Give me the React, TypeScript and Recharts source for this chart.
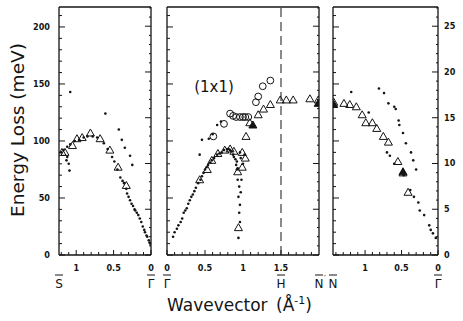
import { ScatterChart, Scatter, XAxis, YAxis, ReferenceLine } from 'recharts';

const W = 463;
const H = 321;
const PLOT_TOP = 7;
const PLOT_BOTTOM = 255;
const AX = 5; // thickness reserved for each axis

// energy axis: meV on the left, second unit on the right (1 unit ~ 8.03 meV)
const E_MAX = 217.5;
const R_MAX = 27.1;
const meVTicks = [0, 10, 20, 30, 40, 50, 60, 70, 80, 90, 100, 110, 120, 130, 140, 150, 160, 170, 180, 190, 200, 210];
const meVMajor = [0, 50, 100, 150, 200];
const rTicks = [0, 1, 2, 3, 4, 5, 6, 7, 8, 9, 10, 11, 12, 13, 14, 15, 16, 17, 18, 19, 20, 21, 22, 23, 24, 25, 26, 27];
const rMajor = [0, 5, 10, 15, 20, 25];

// wavevector ticks per panel
const p1Ticks = [0, 0.1, 0.2, 0.3, 0.4, 0.5, 0.6, 0.7, 0.8, 0.9, 1, 1.1, 1.2];
const p2Ticks = [0, 0.1, 0.2, 0.3, 0.4, 0.5, 0.6, 0.7, 0.8, 0.9, 1, 1.1, 1.2, 1.3, 1.4, 1.5, 1.6, 1.7, 1.8, 1.9];
const p3Ticks = [0, 0.1, 0.2, 0.3, 0.4, 0.5, 0.6, 0.7, 0.8, 0.9, 1, 1.1, 1.2, 1.3, 1.4];
const qMajor = [0, 0.5, 1, 1.5];

// S-bar <- Gamma-bar panel : [q, meV]
const p1Dots = [
  [1.2, 90], [1.17, 92], [1.12, 95], [1.08, 97], [1.02, 100], [0.96, 101], [0.9, 103], [0.85, 104],
  [0.78, 104], [0.72, 103], [1.12, 86], [1.1, 80], [1.09, 74], [1.13, 83],
  [1.08, 143], [0.61, 124], [0.43, 110], [0.39, 101], [0.35, 94], [0.28, 87], [0.25, 79],
  [0.63, 98], [0.58, 93], [0.52, 86], [0.49, 82], [0.45, 75], [0.41, 68], [0.38, 65], [0.36, 63],
  [0.33, 58], [0.32, 54], [0.3, 51], [0.28, 48], [0.26, 45], [0.24, 43], [0.22, 40], [0.21, 39],
  [0.19, 37], [0.17, 35], [0.15, 32], [0.13, 29], [0.11, 25], [0.09, 22], [0.08, 20], [0.06, 17],
  [0.05, 16], [0.03, 13], [0.02, 11], [0.01, 10],
];
const p1Tris = [
  [1.19, 90], [1.15, 90], [1.05, 96], [0.99, 102], [0.92, 103], [0.81, 107], [0.68, 102],
  [0.55, 92], [0.44, 77], [0.33, 61],
];

// Gamma-bar -> H-bar -> N-bar' panel
const p2Dots = [
  [0.08, 16], [0.1, 20], [0.13, 23], [0.15, 26], [0.18, 29], [0.2, 32], [0.22, 37], [0.24, 39],
  [0.26, 41], [0.28, 45], [0.3, 48], [0.32, 51], [0.34, 53], [0.36, 56], [0.38, 59], [0.41, 63],
  [0.44, 66], [0.46, 69], [0.48, 72], [0.5, 75], [0.52, 77], [0.54, 79], [0.57, 81], [0.59, 83],
  [0.62, 85], [0.66, 88], [0.69, 89], [0.72, 90], [0.75, 92], [0.79, 93], [0.81, 93], [0.83, 92],
  [0.85, 91], [0.87, 88], [0.88, 86], [0.9, 84], [0.92, 82], [0.91, 79], [0.93, 76],
  [0.92, 75], [0.93, 66], [0.95, 60], [0.94, 51], [0.96, 44], [0.95, 37], [0.96, 29], [0.94, 15],
  [0.98, 66], [0.97, 55], [0.96, 90], [0.97, 85], [1.0, 80], [1.02, 88],
  [0.43, 88], [0.46, 101], [0.55, 102], [0.6, 106], [0.66, 114], [0.71, 117],
];
const p2Tris = [
  [0.43, 66], [0.53, 75], [0.59, 83], [0.67, 89], [0.76, 92], [0.83, 93], [0.88, 91], [0.93, 73],
  [0.99, 77], [1.03, 85], [0.99, 90], [1.04, 104], [1.09, 116], [1.2, 123], [1.27, 128],
  [1.36, 132], [1.49, 136], [1.57, 136], [1.66, 136], [1.88, 137], [1.99, 136], [0.94, 24],
];
const p2Solid = [[1.13, 114], [1.99, 133]];
const p2Circles = [
  [0.61, 104], [0.75, 115], [0.83, 124], [0.87, 122], [0.91, 121], [0.96, 121], [1.0, 121],
  [1.03, 121], [1.07, 121], [1.17, 134], [1.2, 139], [1.26, 148], [1.36, 153],
];

// N-bar -> Gamma-bar panel
const p3Dots = [
  [1.19, 143], [0.95, 125], [0.7, 90], [0.66, 87], [0.47, 70], [0.33, 51], [0.27, 46], [0.25, 39],
  [0.19, 35], [0.12, 26], [0.1, 22], [0.07, 19], [0.03, 15], [0.6, 80], [0.38, 57],
  [0.81, 146], [0.74, 142], [0.68, 133], [0.6, 130], [0.58, 128], [0.54, 118], [0.53, 114],
  [0.48, 107], [0.44, 98], [0.37, 90], [0.34, 83], [0.3, 75],
];
const p3Tris = [
  [1.43, 134], [1.29, 133], [1.21, 132], [1.12, 130], [1.04, 123], [0.99, 116], [0.9, 116],
  [0.84, 111], [0.75, 104], [0.68, 99], [0.55, 82], [0.48, 72], [0.41, 55],
];
const p3Solid = [[1.43, 132], [0.48, 73]];

const toPts = (arr: number[][]) => arr.map(([q, e]) => ({ q, e }));

const INK = '#141414';
const numFont = "'Liberation Sans Narrow', 'DejaVu Sans Condensed', sans-serif";
const titleFont = "'DejaVu Sans', sans-serif";

const isMajor = (v: number, list: number[]) => list.some((m) => Math.abs(m - v) < 1e-6);

function BottomTick(props: any) {
  const { x, y, payload, labels } = props;
  const major = isMajor(payload.value, qMajor);
  return (
    <g>
      <line x1={x} y1={y} x2={x} y2={y - (major ? 5 : 3)} stroke={INK} strokeWidth={1} />
      {labels && major && (
        <text x={x} y={y + 16} textAnchor="middle" fontSize={9} fontWeight="bold" fontFamily={numFont} fill={INK}>
          {String(payload.value)}
        </text>
      )}
    </g>
  );
}

function TopTick(props: any) {
  const { x, y, payload } = props;
  const major = isMajor(payload.value, qMajor);
  return <line x1={x} y1={y} x2={x} y2={y + (major ? 5 : 3)} stroke={INK} strokeWidth={1} />;
}

function LeftTick(props: any) {
  const { x, y, payload, labels } = props;
  const major = isMajor(payload.value, meVMajor);
  return (
    <g>
      <line x1={x} y1={y} x2={x + (major ? 6 : 3)} y2={y} stroke={INK} strokeWidth={1} />
      {labels && major && (
        <text x={x - 9} y={y + 3} textAnchor="end" fontSize={9} fontWeight="bold" fontFamily={numFont} fill={INK}>
          {String(payload.value)}
        </text>
      )}
    </g>
  );
}

function RightTick(props: any) {
  const { x, y, payload, labels } = props;
  const major = isMajor(payload.value, rMajor);
  return (
    <g>
      <line x1={x} y1={y} x2={x - (major ? 6 : 2)} y2={y} stroke={INK} strokeWidth={1} />
      {labels && major && (
        <text x={x + 6} y={y + 3} textAnchor="start" fontSize={9} fontWeight="bold" fontFamily={numFont} fill={INK}>
          {String(payload.value)}
        </text>
      )}
    </g>
  );
}

const Dot = (p: any) => <circle cx={p.cx} cy={p.cy} r={1.3} fill={INK} />;
const Tri = (p: any) => (
  <path
    d={`M${p.cx},${p.cy - 4} L${p.cx + 4},${p.cy + 3} L${p.cx - 4},${p.cy + 3} Z`}
    fill="none"
    stroke={INK}
    strokeWidth={1}
  />
);
const SolidTri = (p: any) => (
  <path d={`M${p.cx},${p.cy - 4} L${p.cx + 4},${p.cy + 3} L${p.cx - 4},${p.cy + 3} Z`} fill={INK} stroke={INK} />
);
const Ring = (p: any) => <circle cx={p.cx} cy={p.cy} r={3.4} fill="none" stroke={INK} strokeWidth={1} />;

// symmetry-point label under the axis (letter with an overbar)
const symLabel = (text: string, prime?: boolean) => (props: any) => {
  const vb = props.viewBox;
  if (!vb) return null;
  const x = vb.x;
  const yb = PLOT_BOTTOM + 33;
  return (
    <g>
      <line x1={x - 4} y1={yb - 13} x2={x + 4} y2={yb - 13} stroke={INK} strokeWidth={1} />
      <text x={x} y={yb} textAnchor="middle" fontSize={12} fontFamily={titleFont} fill={INK}>
        {text}
      </text>
      {prime && (
        <text x={x + 5} y={yb - 6} fontSize={9} fontFamily={titleFont} fill={INK}>
          ′
        </text>
      )}
    </g>
  );
};

interface PanelProps {
  left: number;
  right: number;
  qMax: number;
  reversed: boolean;
  ticks: number[];
  leftLabels: boolean;
  rightLabels: boolean;
  dots: number[][];
  tris: number[][];
  solid?: number[][];
  rings?: number[][];
  syms: { q: number; text: string; prime?: boolean }[];
  dashedAt?: number;
}

function Panel(p: PanelProps) {
  return (
    <div style={{ position: 'absolute', left: 0, top: 0 }}>
      <ScatterChart
        width={W}
        height={H}
        margin={{ left: p.left - AX, right: W - p.right - AX, top: PLOT_TOP - AX, bottom: H - PLOT_BOTTOM - AX }}
      >
        <XAxis
          type="number"
          dataKey="q"
          domain={[0, p.qMax]}
          reversed={p.reversed}
          ticks={p.ticks}
          interval={0}
          height={AX}
          tickSize={0}
          tickMargin={0}
          tickLine={false}
          axisLine={{ stroke: INK, strokeWidth: 1.3 }}
          tick={<BottomTick labels />}
          allowDataOverflow
        />
        <XAxis
          xAxisId="top"
          orientation="top"
          type="number"
          domain={[0, p.qMax]}
          reversed={p.reversed}
          ticks={p.ticks}
          interval={0}
          height={AX}
          tickSize={0}
          tickMargin={0}
          tickLine={false}
          axisLine={{ stroke: INK, strokeWidth: 1.3 }}
          tick={<TopTick />}
          allowDataOverflow
        />
        <YAxis
          type="number"
          dataKey="e"
          domain={[0, E_MAX]}
          ticks={meVTicks}
          interval={0}
          width={AX}
          tickSize={0}
          tickMargin={0}
          tickLine={false}
          axisLine={{ stroke: INK, strokeWidth: 1.3 }}
          tick={<LeftTick labels={p.leftLabels} />}
          allowDataOverflow
        />
        <YAxis
          yAxisId="r"
          orientation="right"
          type="number"
          domain={[0, R_MAX]}
          ticks={rTicks}
          interval={0}
          width={AX}
          tickSize={0}
          tickMargin={0}
          tickLine={false}
          axisLine={{ stroke: INK, strokeWidth: 1.3 }}
          tick={<RightTick labels={p.rightLabels} />}
          allowDataOverflow
        />
        {p.dashedAt !== undefined && (
          <ReferenceLine x={p.dashedAt} stroke={INK} strokeWidth={1} strokeDasharray="9 5" />
        )}
        {p.syms.map((s) => (
          <ReferenceLine key={s.text + s.q} x={s.q} stroke="none" label={symLabel(s.text, s.prime)} />
        ))}
        <Scatter data={toPts(p.dots)} shape={Dot} isAnimationActive={false} />
        <Scatter data={toPts(p.tris)} shape={Tri} isAnimationActive={false} />
        {p.solid && <Scatter data={toPts(p.solid)} shape={SolidTri} isAnimationActive={false} />}
        {p.rings && <Scatter data={toPts(p.rings)} shape={Ring} isAnimationActive={false} />}
        <Scatter xAxisId="top" yAxisId="r" data={[]} isAnimationActive={false} />
      </ScatterChart>
    </div>
  );
}

export default function App() {
  return (
    <div style={{ position: 'absolute', left: 0, top: 0, width: W, height: H, background: '#fff' }}>
      <Panel
        left={59}
        right={151}
        qMax={1.23}
        reversed
        ticks={p1Ticks}
        leftLabels
        rightLabels={false}
        dots={p1Dots}
        tris={p1Tris}
        syms={[{ q: 1.23, text: 'S' }, { q: 0, text: 'Γ' }]}
      />
      <Panel
        left={167}
        right={319}
        qMax={2.0}
        reversed={false}
        ticks={p2Ticks}
        leftLabels={false}
        rightLabels={false}
        dots={p2Dots}
        tris={p2Tris}
        solid={p2Solid}
        rings={p2Circles}
        dashedAt={1.5}
        syms={[{ q: 0, text: 'Γ' }, { q: 1.5, text: 'H' }, { q: 2.0, text: 'N', prime: true }]}
      />
      <Panel
        left={333}
        right={438}
        qMax={1.44}
        reversed
        ticks={p3Ticks}
        leftLabels={false}
        rightLabels
        dots={p3Dots}
        tris={p3Tris}
        solid={p3Solid}
        syms={[{ q: 1.44, text: 'N' }, { q: 0, text: 'Γ' }]}
      />
      <svg width={W} height={H} style={{ position: 'absolute', left: 0, top: 0, pointerEvents: 'none' }}>
        <text
          transform="translate(24,130) rotate(-90)"
          textAnchor="middle"
          fontSize={17}
          fontFamily={titleFont}
          fill={INK}
          textLength={174}
          lengthAdjust="spacingAndGlyphs"
        >
          Energy Loss (meV)
        </text>
        <text x={167} y={311} fontSize={17} fontFamily={titleFont} fill={INK}>
          Wavevector
        </text>
        <text x={276} y={311} fontSize={17} fontFamily={titleFont} fill={INK}>
          (Å<tspan fontSize={11} dy={-7}>-1</tspan>
          <tspan dy={7}>)</tspan>
        </text>
        <text x={214} y={92} textAnchor="middle" fontSize={15} fontFamily={titleFont} fill={INK}>
          (1x1)
        </text>
      </svg>
    </div>
  );
}
